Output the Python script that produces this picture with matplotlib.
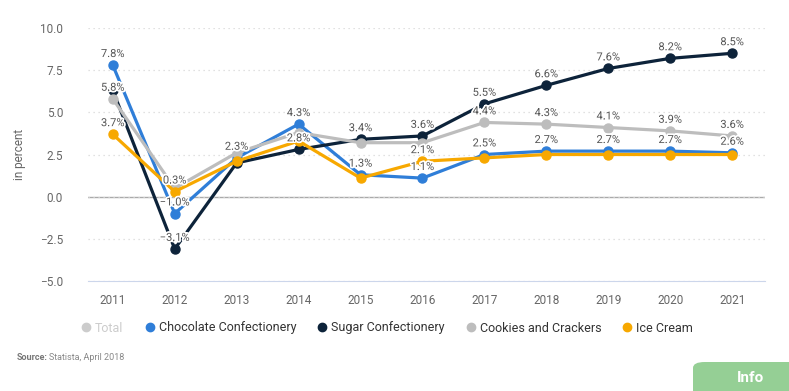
import matplotlib
matplotlib.use("Agg")
import matplotlib.pyplot as plt
import matplotlib.patheffects as pe
from matplotlib.lines import Line2D
from matplotlib.patches import FancyBboxPatch

INK_2 = "#555555"
GRID = "#d8d8d8"

years = [2011, 2012, 2013, 2014, 2015, 2016, 2017, 2018, 2019, 2020, 2021]
chocolate = [7.8, -1.0, 2.3, 4.3, 1.3, 1.1, 2.5, 2.7, 2.7, 2.7, 2.6]
sugar = [6.3, -3.1, 2.0, 2.8, 3.4, 3.6, 5.5, 6.6, 7.6, 8.2, 8.5]
cookies = [5.8, 0.5, 2.6, 3.8, 3.2, 3.2, 4.4, 4.3, 4.1, 3.9, 3.6]
ice_cream = [3.7, 0.3, 2.1, 3.3, 1.1, 2.1, 2.3, 2.5, 2.5, 2.5, 2.5]

# which points carry a visible data label (others are hidden by overlap)
choc_labels = [0, 1, 2, 3, 4, 5, 6, 7, 8, 9, 10]
sugar_labels = [1, 3, 4, 5, 6, 7, 8, 9, 10]
cookie_labels = [0, 6, 7, 8, 9, 10]
ice_labels = [0, 1, 5]

SERIES = [
    ("Chocolate Confectionery", chocolate, "#2f7ed8", choc_labels),
    ("Sugar Confectionery", sugar, "#0d233a", sugar_labels),
    ("Cookies and Crackers", cookies, "#bdbdbd", cookie_labels),
    ("Ice Cream", ice_cream, "#f7a800", ice_labels),
]

plt.rcParams.update({"font.family": ["Roboto", "DejaVu Sans"]})

fig = plt.figure(figsize=(7.89, 3.91), dpi=100)
ax = fig.add_axes([88 / 789, 1 - 281 / 391, 677 / 789, 253 / 391])

x = list(range(len(years)))
for name, values, color, labelled in SERIES:
    ax.plot(x, values, color=color, linewidth=2.3, marker="o", markersize=6.5,
            zorder=3, solid_joinstyle="round")

# labels go on top of every line, with a white halo
for name, values, color, labelled in SERIES:
    for i in labelled:
        text = f"{values[i]:.1f}%".replace("-", "\u2212")
        ax.annotate(text, (i, values[i]), xytext=(0, 8),
                    textcoords="offset points", ha="center", va="center",
                    fontsize=8, color=INK_2, zorder=5,
                    path_effects=[pe.withStroke(linewidth=2.5, foreground="white")])

ax.set_xlim(-0.4, 10.53)
ax.set_ylim(-5, 10)
ax.set_xticks(x)
ax.set_xticklabels([str(y) for y in years])
ax.set_yticks([-5, -2.5, 0, 2.5, 5, 7.5, 10])
ax.set_yticklabels(["−5.0", "−2.5", "0.0", "2.5", "5.0", "7.5", "10.0"])
ax.tick_params(axis="both", length=0, labelsize=8.5, colors="#666666")
ax.tick_params(axis="x", pad=9)
ax.tick_params(axis="y", pad=18)
ax.grid(axis="y", color=GRID, linewidth=0.9, linestyle=(0, (1, 3)), zorder=0)
ax.axhline(0, color="#aaaaaa", linewidth=1, zorder=1)
for spine in ("top", "right", "left"):
    ax.spines[spine].set_visible(False)
ax.spines["bottom"].set_color("#ccd6eb")
ax.set_ylabel("in percent", fontsize=8.5, color="#666666", labelpad=10)

handles = [Line2D([], [], linestyle="none", marker="o", markersize=6,
                  color="#cccccc")]
labels = ["Total"]
for name, _, color, _ in SERIES:
    handles.append(Line2D([], [], linestyle="none", marker="o", markersize=6,
                          color=color))
    labels.append(name)
leg = fig.legend(handles, labels, loc="center", bbox_to_anchor=(0.49, 1 - 328 / 391),
                 ncol=5, frameon=False, fontsize=9, handletextpad=0.2,
                 columnspacing=1.6, handlelength=1.0)
texts = leg.get_texts()
texts[0].set_color("#cccccc")
for t in texts[1:]:
    t.set_color("#333333")

fig.text(17 / 789, 1 - 358 / 391, "Source:", fontsize=6.5, color="#777777",
         fontweight="bold", va="center")
fig.text(49 / 789, 1 - 358 / 391, "Statista, April 2018", fontsize=6.5,
         color="#888888", va="center")

box = FancyBboxPatch((693 / 789, -0.05), 0.2, 1 - 362 / 391 + 0.05,
                     boxstyle="round,pad=0,rounding_size=0.015",
                     transform=fig.transFigure, facecolor="#95cf95",
                     edgecolor="none")
fig.patches.append(box)
fig.text(751 / 789, 1 - 378 / 391, "Info", fontsize=11, color="white",
         fontweight="bold", ha="center", va="center")

fig.savefig("out.png", dpi=100, facecolor="white")
